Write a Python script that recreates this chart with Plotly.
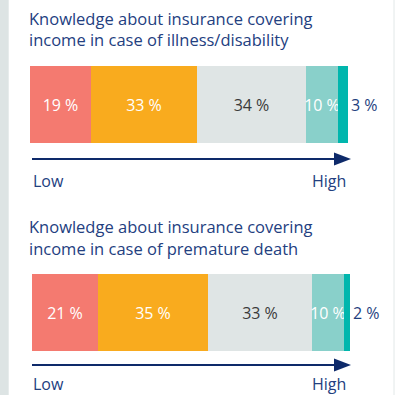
import plotly.graph_objects as go

W, H = 397, 395

levels = ["Very low", "Low", "Medium", "High", "Very high"]
illness_values = [19, 33, 34, 10, 3]
death_values = [21, 35, 33, 10, 2]
titles = [
    ["Knowledge about insurance covering", "income in case of illness/disability"],
    ["Knowledge about insurance covering", "income in case of premature death"],
]
scale_labels = ["Low", "High"]

colors = ["#f47a70", "#f9ab1e", "#dfe5e5", "#89d0ca", "#00b6ad"]
text_colors = ["#ffffff", "#ffffff", "#3a3a3a", "#ffffff", "#1f3f7e"]
NAVY = "#23407f"
ARROW = "#0e2a6a"
FONT = "Open Sans"

def px(x):
    return x / W

def py(y):
    return 1 - y / H

fig = go.Figure()

panels = [
    dict(vals=illness_values, xa="x", ya="y", x0=30, x1=348, y0=66, y1=143,
         title_y=[18, 40], arrow_y=159, label_y=181, ax0=32, ax1=351),
    dict(vals=death_values, xa="x2", ya="y2", x0=32, x1=350, y0=274, y1=351,
         title_y=[227, 248], arrow_y=365, label_y=383.5, ax0=32, ax1=351),
]

annotations = []
shapes = []

# background strips
shapes.append(dict(type="rect", xref="paper", yref="paper", x0=0, x1=px(8.7), y0=0, y1=1,
                   fillcolor="#dde4e4", line_width=0, layer="below"))
shapes.append(dict(type="line", xref="paper", yref="paper", x0=px(394), x1=px(394), y0=0, y1=1,
                   line=dict(color="#e2e8e8", width=1), layer="below"))

for p_i, p in enumerate(panels):
    vals = p["vals"]
    n = len(vals)
    for i, v in enumerate(vals):
        last = i == n - 1
        fig.add_trace(go.Bar(
            x=[v], y=[0], orientation="h", width=1,
            marker=dict(color=colors[i], line_width=0),
            text=[f"{v} %"],
            textposition="outside" if last else "inside",
            insidetextanchor="middle",
            textangle=0,
            constraintext="none",
            cliponaxis=False,
            textfont=dict(family=FONT, size=16, color=text_colors[i]),
            xaxis=p["xa"], yaxis=p["ya"],
            showlegend=False, hoverinfo="skip", name=levels[i],
        ))
    # titles
    for line, ty in zip(titles[p_i], p["title_y"]):
        annotations.append(dict(text=line, xref="paper", yref="paper", x=px(27), y=py(ty),
                                xanchor="left", yanchor="middle", showarrow=False,
                                font=dict(family=FONT, size=16.5, color=NAVY)))
    # arrow
    ay = p["arrow_y"]
    shapes.append(dict(type="line", xref="paper", yref="paper",
                       x0=px(p["ax0"]), x1=px(p["ax1"] - 12), y0=py(ay), y1=py(ay),
                       line=dict(color=ARROW, width=2)))
    tip = p["ax1"]
    shapes.append(dict(type="path", xref="paper", yref="paper",
                       path=f"M {px(tip - 17)} {py(ay - 6.5)} L {px(tip)} {py(ay)} L {px(tip - 17)} {py(ay + 6.5)} Z",
                       fillcolor=ARROW, line_width=0))
    # low / high labels
    annotations.append(dict(text=scale_labels[0], xref="paper", yref="paper", x=px(31), y=py(p["label_y"]),
                            xanchor="left", yanchor="middle", showarrow=False,
                            font=dict(family=FONT, size=16, color=NAVY)))
    annotations.append(dict(text=scale_labels[1], xref="paper", yref="paper", x=px(348), y=py(p["label_y"]),
                            xanchor="right", yanchor="middle", showarrow=False,
                            font=dict(family=FONT, size=16, color=NAVY)))

axis_common = dict(showgrid=False, zeroline=False, showticklabels=False, showline=False, ticks="", fixedrange=True)

fig.update_layout(
    width=W, height=H,
    margin=dict(l=0, r=0, t=0, b=0),
    paper_bgcolor="white", plot_bgcolor="rgba(0,0,0,0)",
    barmode="stack", bargap=0,
    showlegend=False,
    annotations=annotations,
    shapes=shapes,
    xaxis=dict(domain=[px(panels[0]["x0"]), px(panels[0]["x1"])], range=[0, sum(illness_values)], anchor="y", **axis_common),
    yaxis=dict(domain=[py(panels[0]["y1"]), py(panels[0]["y0"])], range=[-0.5, 0.5], anchor="x", **axis_common),
    xaxis2=dict(domain=[px(panels[1]["x0"]), px(panels[1]["x1"])], range=[0, sum(death_values)], anchor="y2", **axis_common),
    yaxis2=dict(domain=[py(panels[1]["y1"]), py(panels[1]["y0"])], range=[-0.5, 0.5], anchor="x2", **axis_common),
)

fig.write_html("out.html", config={"displayModeBar": False})
